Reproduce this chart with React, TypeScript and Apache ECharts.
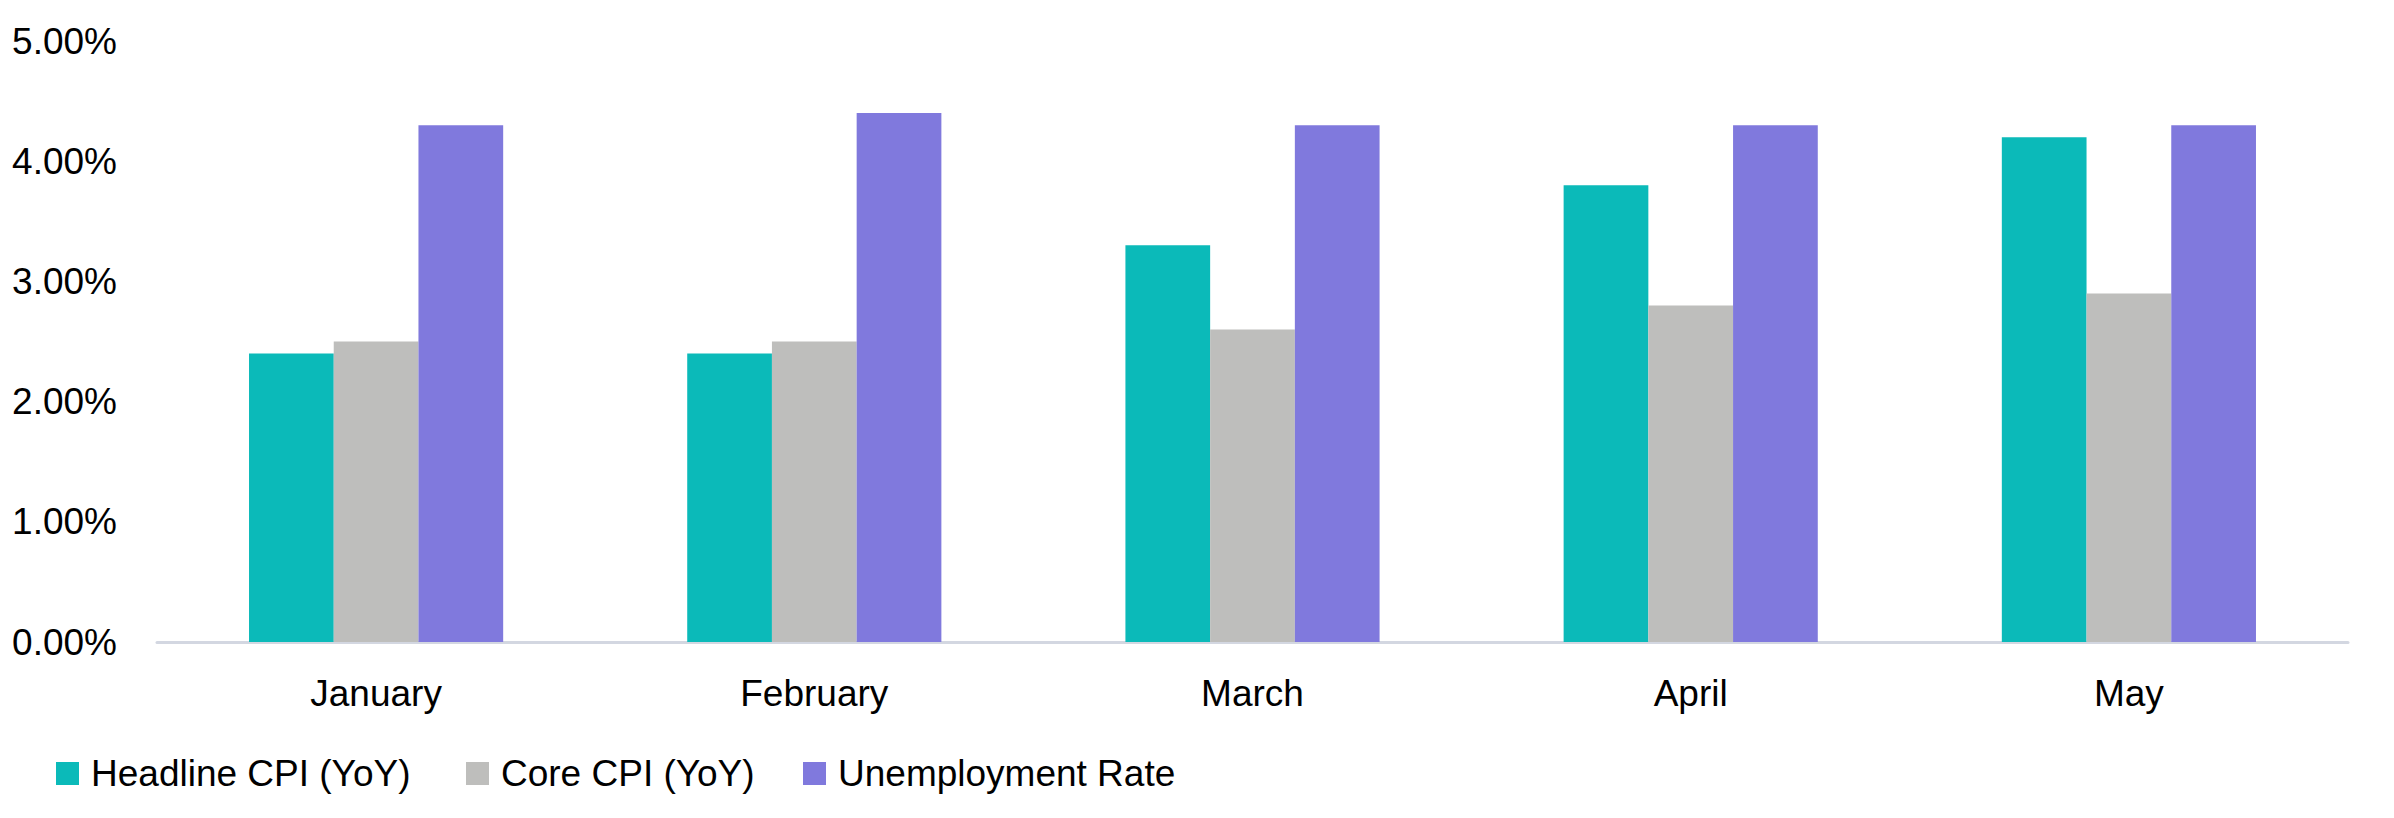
import React, { useEffect, useRef } from "react";
import * as echarts from "echarts";

const categories = ["January", "February", "March", "April", "May"];
const headlineCPI = [2.4, 2.4, 3.3, 3.8, 4.2];
const coreCPI = [2.5, 2.5, 2.6, 2.8, 2.9];
const unemployment = [4.3, 4.4, 4.3, 4.3, 4.3];
const seriesNames = ["Headline CPI (YoY)", "Core CPI (YoY)", "Unemployment Rate"];
const colors = ["#0BBAB9", "#BEBEBC", "#8079DD"];

const FONT = "'Liberation Sans', Arial, sans-serif";
const legendLefts = [51, 461, 798];

export default function App() {
  const ref = useRef<HTMLDivElement>(null);
  useEffect(() => {
    if (!ref.current) return;
    const chart = echarts.init(ref.current, undefined, { renderer: "svg" });
    const mk = (name: string, data: number[], color: string) => ({
      name,
      type: "bar",
      data,
      itemStyle: { color },
      barGap: "0%",
      barCategoryGap: "42%",
    });
    chart.setOption({
      animation: false,
      color: colors,
      textStyle: { fontFamily: FONT },
      grid: { left: 157, right: 46, top: 41, bottom: 176, containLabel: false },
      legend: seriesNames.map((n, i) => ({
        left: legendLefts[i],
        top: 750,
        itemWidth: 23,
        itemHeight: 23,
        icon: "rect",
        textStyle: {
          fontFamily: FONT,
          fontSize: 37,
          color: "#000",
          padding: [0, 0, 0, 7],
        },
        data: [n],
      })),
      xAxis: {
        type: "category",
        data: categories,
        axisLine: { show: true, lineStyle: { color: "#D3D7E1", width: 3 } },
        axisTick: { show: false },
        axisLabel: {
          margin: 33,
          fontFamily: FONT,
          fontSize: 37,
          color: "#000",
        },
      },
      yAxis: {
        type: "value",
        min: 0,
        max: 5,
        interval: 1,
        axisLine: { show: false },
        axisTick: { show: false },
        splitLine: { show: false },
        axisLabel: {
          margin: 40,
          fontFamily: FONT,
          fontSize: 37,
          color: "#000",
          formatter: (v: number) => v.toFixed(2) + "%",
        },
      },
      series: [
        mk(seriesNames[0], headlineCPI, colors[0]),
        mk(seriesNames[1], coreCPI, colors[1]),
        mk(seriesNames[2], unemployment, colors[2]),
      ],
    });
    return () => chart.dispose();
  }, []);
  return (
    <div
      ref={ref}
      style={{ position: "absolute", left: 0, top: 0, width: 2394, height: 818, background: "#fff" }}
    />
  );
}
